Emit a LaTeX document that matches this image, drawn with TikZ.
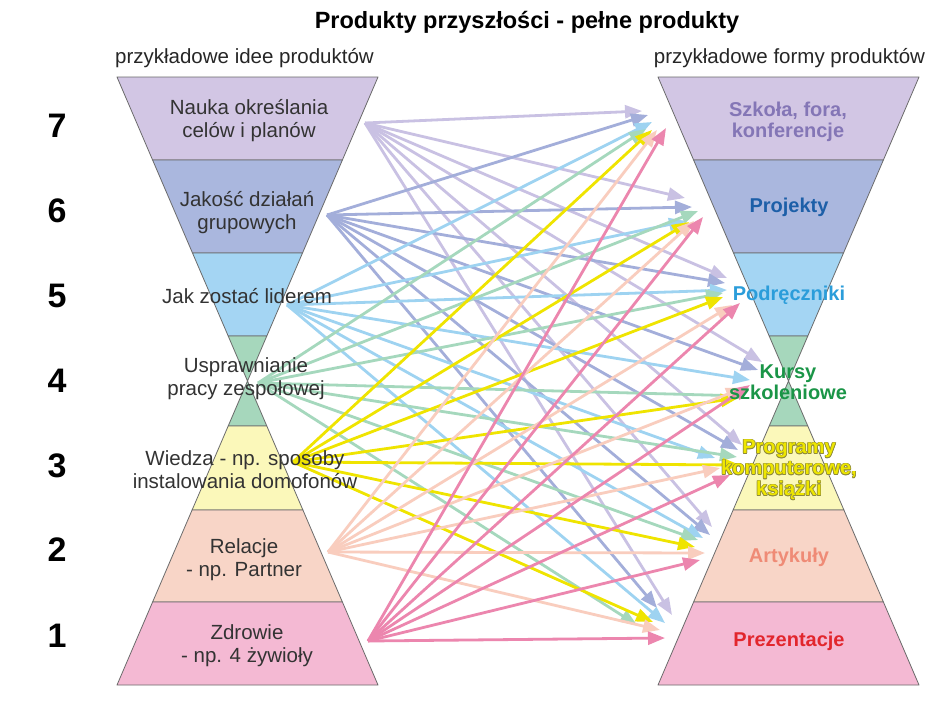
\documentclass[tikz,border=0pt]{standalone}
\usepackage{fontspec}
\setmainfont{Liberation Sans}
\usetikzlibrary{arrows.meta}

% layer fills
\definecolor{l7}{HTML}{D2C6E4}
\definecolor{l6}{HTML}{AAB7DE}
\definecolor{l5}{HTML}{A4D5F3}
\definecolor{l4}{HTML}{A6D7BC}
\definecolor{l3}{HTML}{FBF8BA}
\definecolor{l2}{HTML}{F8D5C7}
\definecolor{l1}{HTML}{F4B9D3}
\definecolor{edge}{HTML}{6B6B6B}
% arrow colours, one per idea level
\definecolor{a7}{HTML}{C9C1E3}
\definecolor{a6}{HTML}{A3AEDA}
\definecolor{a5}{HTML}{9ED3F1}
\definecolor{a4}{HTML}{A5D8BD}
\definecolor{a3}{HTML}{EFE400}
\definecolor{a2}{HTML}{F9CDBE}
\definecolor{a1}{HTML}{EC86AE}
% text colours
\definecolor{txt}{HTML}{333333}
\definecolor{r7}{HTML}{8476B6}
\definecolor{r6}{HTML}{1D5FA8}
\definecolor{r5}{HTML}{2B9DDA}
\definecolor{r4}{HTML}{1A9547}
\definecolor{r3}{HTML}{EEE600}
\definecolor{r3o}{HTML}{8E8A3C}
\definecolor{r2}{HTML}{EF8B76}
\definecolor{r1}{HTML}{E2262D}

\tikzset{
  lbl/.style={font=\fontsize{20.5}{23}\selectfont, text=txt, align=center, inner sep=0pt},
  rlbl/.style={font=\fontsize{20}{21}\selectfont\bfseries, align=center, inner sep=0pt},
  num/.style={font=\fontsize{34}{34}\selectfont\bfseries, text=black, inner sep=0pt},
  layer/.style={draw=edge, line width=0.8pt, line join=round},
  arr/.style={line width=2.8pt, -{Triangle[length=17pt,width=13pt]}},
}

% seven-layer hourglass centred at x = 247.5
\newcommand\hourglassshape{%
  \filldraw[layer, fill=l7] (117,77) -- (378,77) -- (342.4,160) -- (152.6,160) -- cycle;
  \filldraw[layer, fill=l6] (152.6,160) -- (342.4,160) -- (302.5,253) -- (192.5,253) -- cycle;
  \filldraw[layer, fill=l5] (192.5,253) -- (302.5,253) -- (266.8,336) -- (228.2,336) -- cycle;
  \filldraw[layer, fill=l4] (228.2,336) -- (266.8,336) -- (247.5,381) -- cycle;
  \filldraw[layer, fill=l4] (247.5,381) -- (266.8,426) -- (228.2,426) -- cycle;
  \filldraw[layer, fill=l3] (228.2,426) -- (266.8,426) -- (302.9,510) -- (192.1,510) -- cycle;
  \filldraw[layer, fill=l2] (192.1,510) -- (302.9,510) -- (342.4,602) -- (152.6,602) -- cycle;
  \filldraw[layer, fill=l1] (152.6,602) -- (342.4,602) -- (378,685) -- (117,685) -- cycle;
}

\begin{document}
\begin{tikzpicture}[x=1pt,y=-1pt]
\useasboundingbox (0,0) rectangle (933,716);
\fill[white] (0,0) rectangle (933,716);

% headings
\node[inner sep=0pt, font=\fontsize{23.5}{24}\selectfont\bfseries] (title) at (527,22) {Produkty przyszłości - pełne produkty};
\node[lbl, text=black!85] (subl) at (244.5,58) {przykładowe idee produktów};
\node[lbl, text=black!85] (subr) at (789.5,58) {przykładowe formy produktów};

% level numbers
\node[num] (n7) at (57,126) {7};
\node[num] (n6) at (57,211) {6};
\node[num] (n5) at (57,296) {5};
\node[num] (n4) at (57,381) {4};
\node[num] (n3) at (57,466) {3};
\node[num] (n2) at (57,550) {2};
\node[num] (n1) at (57,636) {1};

% the two hourglasses
\begin{scope}
  \hourglassshape
\end{scope}
\begin{scope}[xshift=541pt]
  \hourglassshape
\end{scope}

% arrow sources
\coordinate (src7) at (365,123);
\coordinate (src6) at (327,215);
\coordinate (src5) at (287,305);
\coordinate (src4) at (258,383);
\coordinate (src3) at (293,462);
\coordinate (src2) at (328,552);
\coordinate (src1) at (368,641);

% arrow tips: tip-<form level>-<idea level>
\coordinate (tip-7-7) at (642,111);
\coordinate (tip-7-6) at (648,115);
\coordinate (tip-7-5) at (652,122);
\coordinate (tip-7-4) at (646,129);
\coordinate (tip-7-3) at (652,130);
\coordinate (tip-7-2) at (657,130);
\coordinate (tip-7-1) at (666,128);

\coordinate (tip-6-7) at (685,198);
\coordinate (tip-6-6) at (692,207);
\coordinate (tip-6-5) at (686,221);
\coordinate (tip-6-4) at (698,211);
\coordinate (tip-6-3) at (689,222);
\coordinate (tip-6-2) at (694,221);
\coordinate (tip-6-1) at (703,217);

\coordinate (tip-5-7) at (727,278);
\coordinate (tip-5-6) at (725,283);
\coordinate (tip-5-5) at (727,290);
\coordinate (tip-5-4) at (723,293);
\coordinate (tip-5-3) at (723,297);
\coordinate (tip-5-2) at (732,305);
\coordinate (tip-5-1) at (740,303);

\coordinate (tip-4-7) at (762,362);
\coordinate (tip-4-6) at (758,370);
\coordinate (tip-4-5) at (750,380);
\coordinate (tip-4-4) at (745,396);
\coordinate (tip-4-3) at (738,398);
\coordinate (tip-4-2) at (743,388);
\coordinate (tip-4-1) at (750,385);

\coordinate (tip-3-7) at (742,445);
\coordinate (tip-3-6) at (738,450);
\coordinate (tip-3-5) at (715,458);
\coordinate (tip-3-4) at (737,457);
\coordinate (tip-3-3) at (740,465);
\coordinate (tip-3-2) at (720,468);
\coordinate (tip-3-1) at (730,475);

\coordinate (tip-2-7) at (712,527);
\coordinate (tip-2-6) at (710,535);
\coordinate (tip-2-5) at (703,538);
\coordinate (tip-2-4) at (698,540);
\coordinate (tip-2-3) at (695,547);
\coordinate (tip-2-2) at (705,553);
\coordinate (tip-2-1) at (700,560);

\coordinate (tip-1-7) at (672,615);
\coordinate (tip-1-6) at (657,608);
\coordinate (tip-1-5) at (665,623);
\coordinate (tip-1-4) at (637,625);
\coordinate (tip-1-3) at (653,622);
\coordinate (tip-1-2) at (660,630);
\coordinate (tip-1-1) at (665,638);

% every idea points to every product form
\foreach \s in {7,6,5,4,3,2,1}{
  \foreach \t in {7,6,5,4,3,2,1}{
    \draw[arr, draw=a\s, fill=a\s] (src\s) -- (tip-\t-\s);
  }
}

% product ideas
\node[lbl] (i7) at (249,121) {Nauka określania\\celów i planów};
\node[lbl] (i6) at (247,213) {Jakość działań\\grupowych};
\node[lbl] (i5) at (247,296) {Jak zostać liderem};
\node[lbl] (i4) at (246,379) {Usprawnianie\\pracy zespołowej};
\node[lbl] (i3) at (245,470) {Wiedza - np. sposoby\\instalowania domofonów};
\node[lbl] (i2) at (244,560) {Relacje\\- np. Partner};
\node[lbl] (i1) at (247,646) {Zdrowie\\- np. 4 żywioły};

% product forms
\node[rlbl, text=r7] (f7) at (788,122) {Szkoła, fora,\\konferencje};
\node[rlbl, text=r6] (f6) at (789,207) {Projekty};
\node[rlbl, text=r5] (f5) at (789,295) {Podręczniki};
\node[rlbl, text=r4] (f4) at (788,382) {Kursy\\szkoleniowe};
\foreach \dx/\dy in {0.7/0,-0.7/0,0/0.7,0/-0.7,0.5/0.5,-0.5/0.5,0.5/-0.5,-0.5/-0.5}{
  \node[rlbl, text=r3o, shift={(\dx,\dy)}] at (789,470) {Programy\\komputerowe,\\książki};
}
\node[rlbl, text=r3] (f3) at (789,470) {Programy\\komputerowe,\\książki};
\node[rlbl, text=r2] (f2) at (789,557) {Artykuły};
\node[rlbl, text=r1] (f1) at (789,641) {Prezentacje};

\end{tikzpicture}
\end{document}
